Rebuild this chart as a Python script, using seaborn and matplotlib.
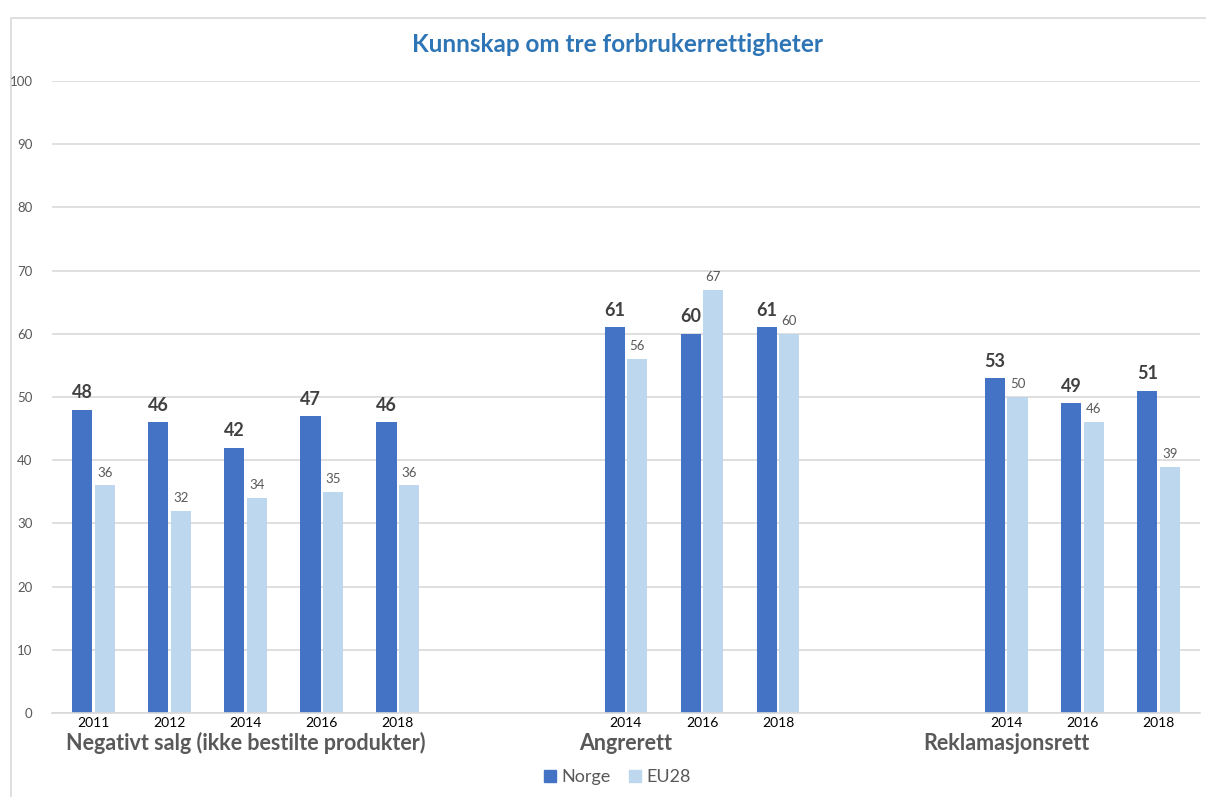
import pandas as pd
import numpy as np
import matplotlib
matplotlib.use("Agg")
import matplotlib.pyplot as plt
import seaborn as sns
from matplotlib.patches import Rectangle

# data
groups = ["Negativt salg (ikke bestilte produkter)", "Angrerett", "Reklamasjonsrett"]
years_negativt = ["2011", "2012", "2014", "2016", "2018"]
years_angrerett = ["2014", "2016", "2018"]
years_reklamasjon = ["2014", "2016", "2018"]
norge_negativt = [48, 46, 42, 47, 46]
eu28_negativt = [36, 32, 34, 35, 36]
norge_angrerett = [61, 60, 61]
eu28_angrerett = [56, 67, 60]
norge_reklamasjon = [53, 49, 51]
eu28_reklamasjon = [50, 46, 39]
series = ["Norge", "EU28"]

# long table for seaborn
rows = []
for grp, yrs, no, eu in zip(groups,
                            [years_negativt, years_angrerett, years_reklamasjon],
                            [norge_negativt, norge_angrerett, norge_reklamasjon],
                            [eu28_negativt, eu28_angrerett, eu28_reklamasjon]):
    for y, a, b in zip(yrs, no, eu):
        rows.append({"slot": f"{grp}|{y}", "year": y, "serie": "Norge", "verdi": a})
        rows.append({"slot": f"{grp}|{y}", "year": y, "serie": "EU28", "verdi": b})
df = pd.DataFrame(rows)

# category order with two empty slots between the groups
order = []
for i, (grp, yrs) in enumerate(zip(groups, [years_negativt, years_angrerett, years_reklamasjon])):
    if i > 0:
        order += [f"blank{i}a", f"blank{i}b"]
    order += [f"{grp}|{y}" for y in yrs]

sns.set_theme(style="white")
plt.rcParams["font.family"] = ["Lato", "DejaVu Sans"]

fig = plt.figure(figsize=(12.06, 7.97), dpi=100)
ax = fig.add_axes([0.0431, 0.1054, 0.9519, 0.793])

farger = {"Norge": "#4472C4", "EU28": "#BDD7EE"}
sns.barplot(data=df, x="slot", y="verdi", hue="serie", order=order,
            hue_order=series, palette=farger, width=0.59, gap=0.1,
            saturation=1, linewidth=0, legend=False, ax=ax)

ax.set_xlim(-0.545, len(order) - 1 + 0.545)
ax.set_ylim(0, 100)
ax.set_yticks(range(0, 101, 10))
ax.yaxis.grid(True, color="#d9d9d9", linewidth=1.2)
ax.set_axisbelow(True)
for s in ["top", "right", "left"]:
    ax.spines[s].set_visible(False)
ax.spines["bottom"].set_color("#d9d9d9")
ax.spines["bottom"].set_linewidth(1.2)
ax.tick_params(axis="y", length=0, labelsize=9.5, labelcolor="#595959", pad=14)
ax.tick_params(axis="x", length=0, labelsize=10, labelcolor="#000000", pad=3)
ax.set_xticks(range(len(order)))
ax.set_xticklabels([o.split("|")[1] if "|" in o else "" for o in order])
ax.set_xlabel("")
ax.set_ylabel("")

# data labels
ax.bar_label(ax.containers[0], fmt="%d", padding=6, fontsize=13,
             fontweight="bold", color="#404040")
ax.bar_label(ax.containers[1], fmt="%d", padding=5, fontsize=9.5, color="#595959")

# group labels under the 2014 column of each group
for grp in groups:
    pos = order.index(f"{grp}|2014")
    ax.text(pos, -4.8, grp, ha="center", va="center", fontsize=15.5,
            fontweight="bold", color="#595959", transform=ax.transData)

fig.suptitle("Kunnskap om tre forbrukerrettigheter", x=0.512, y=0.958,
             fontsize=17.5, fontweight="bold", color="#2E75B6")

# legend at the bottom
handles = [plt.Rectangle((0, 0), 1, 1, color=farger[s]) for s in series]
fig.legend(handles, series, loc="center", bbox_to_anchor=(0.512, 0.025), ncol=2,
           frameon=False, fontsize=13, handlelength=0.65, handleheight=0.65,
           columnspacing=1.0, handletextpad=0.3, labelcolor="#595959")

# chart border
fig.patches.append(Rectangle((11 / 1206, -0.05), 1.1, 1 - 18 / 797 + 0.05,
                             transform=fig.transFigure, fill=False,
                             edgecolor="#d9d9d9", linewidth=1.2, zorder=-1))

fig.savefig("out.png", dpi=100)
